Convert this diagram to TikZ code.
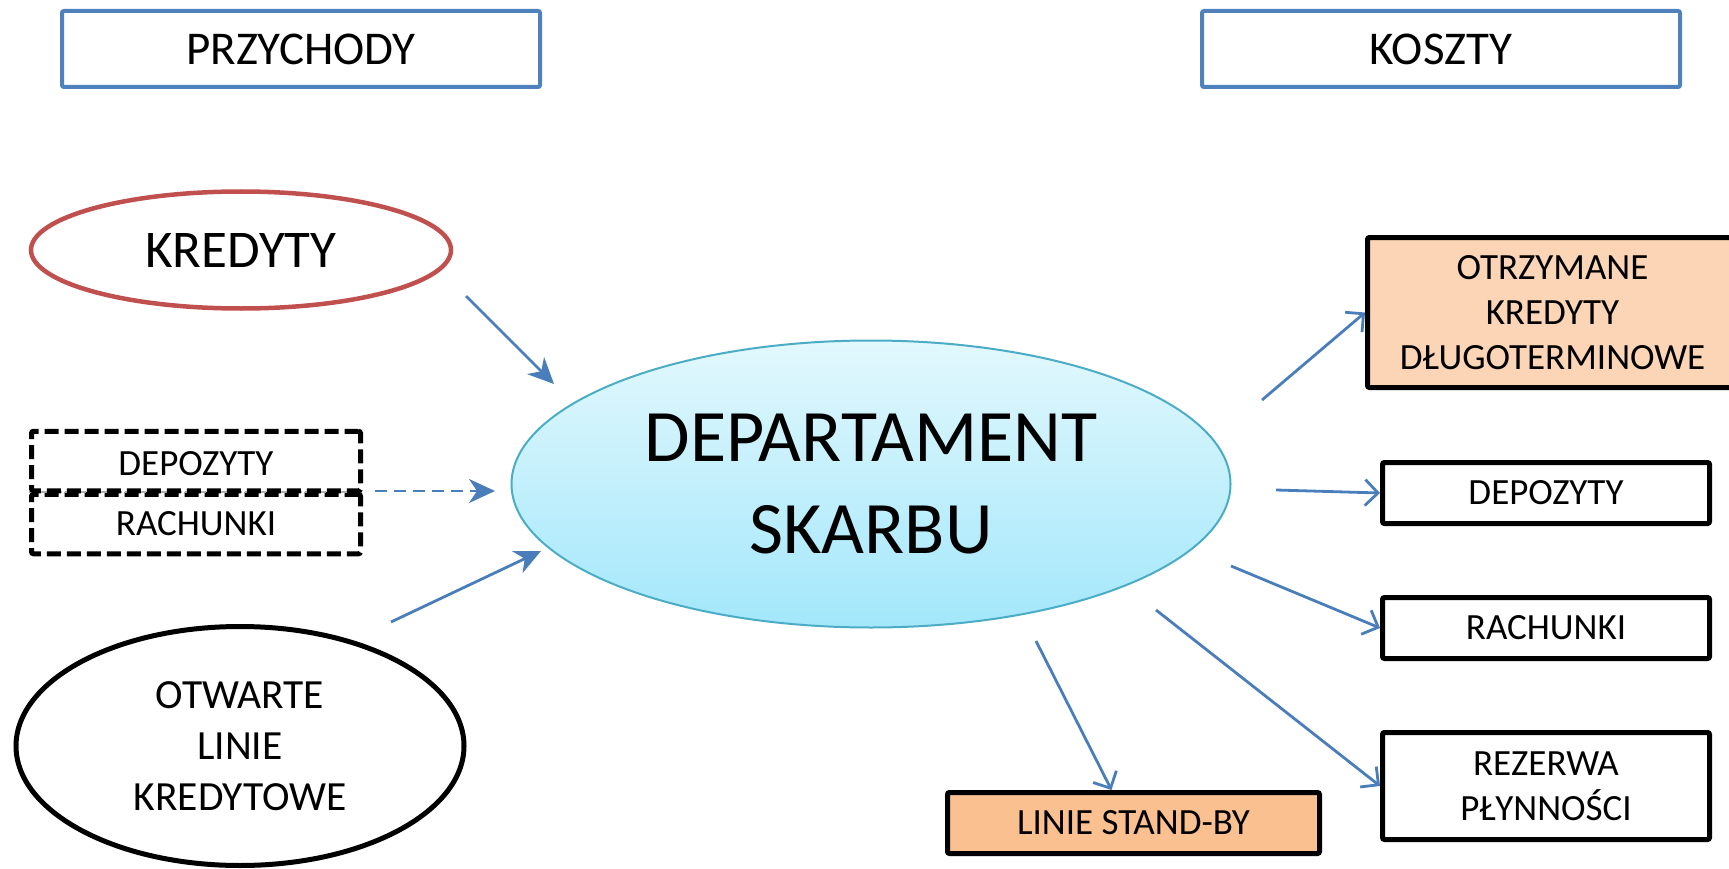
\documentclass[tikz,border=0pt]{standalone}
\usepackage{fontspec}
\setmainfont{Carlito}
\usetikzlibrary{arrows.meta,shapes.geometric}

\definecolor{hdrblue}{HTML}{4F81BD}
\definecolor{arrblue}{HTML}{4A7EBB}
\definecolor{kredred}{HTML}{C0504D}
\definecolor{peachlt}{HTML}{FBD5B5}
\definecolor{peach}{HTML}{FAC090}
\definecolor{skyedge}{HTML}{4BACC6}
\definecolor{skytop}{HTML}{E2F8FD}
\definecolor{skybot}{HTML}{A3E7FB}

\tikzset{
  hdr/.style={draw=hdrblue, line width=4pt, rounded corners=2pt, inner sep=0pt,
    minimum width=478pt, minimum height=76pt, font=\fontsize{47}{56}\selectfont},
  costbox/.style={draw=black, line width=5pt, rounded corners=2pt, inner sep=0pt,
    minimum width=327pt, minimum height=61pt, align=center,
    font=\fontsize{37}{45}\selectfont},
  srcbox/.style={draw=black, line width=5pt, rounded corners=2pt, inner sep=0pt,
    dash pattern=on 14pt off 6pt, minimum width=329pt, minimum height=59.5pt,
    font=\fontsize{37}{45}\selectfont},
  arr/.style={draw=arrblue, line width=2.8pt},
  inarr/.style={arr, -{Stealth[length=26pt,width=24pt,inset=8pt]}},
  outarr/.style={arr, -{Straight Barb[length=13pt,width=26pt]}},
}

\begin{document}
\begin{tikzpicture}[x=1pt, y=-1pt]
\useasboundingbox (0,0) rectangle (1729,869);
\clip (0,0) rectangle (1729,869);

% headers
\node[hdr] (prz) at (301,49) {PRZYCHODY};
\node[hdr] (kosz) at (1441,49) {KOSZTY};

% income sources
\node[ellipse, draw=kredred, line width=4.5pt, inner sep=0pt,
  minimum width=420pt, minimum height=117pt,
  font=\fontsize{53}{63}\selectfont] (kred) at (241,250) {KREDYTY};

\node[srcbox, text depth=0pt] (rachL) at (196,524) {};
\node[font=\fontsize{37}{45}\selectfont] at (196,524) {RACHUNKI};
\draw[gray!60, line width=2.5pt, dash pattern=on 9pt off 3pt]
  (rachL.north west) -- (rachL.north east);
\node[srcbox] (depL) at (196,461) {};
\node[font=\fontsize{37}{45}\selectfont] at (196,464) {DEPOZYTY};

\node[ellipse, draw=black, line width=5pt, inner sep=0pt,
  minimum width=448pt, minimum height=239pt, align=center,
  font=\fontsize{41.5}{51}\selectfont] (otw) at (240,746)
  {OTWARTE\\LINIE\\KREDYTOWE};

% treasury department
\node[ellipse, draw=skyedge, line width=2pt, top color=skytop, bottom color=skybot,
  inner sep=0pt, minimum width=719pt, minimum height=287pt, align=center,
  font=\fontsize{74}{92}\selectfont] (dep) at (871,484)
  {DEPARTAMENT\\SKARBU};

% cost items
\node[costbox, fill=peachlt, minimum width=370pt, minimum height=150pt] (otrz)
  at (1552.5,312.5) {OTRZYMANE\\KREDYTY\\DŁUGOTERMINOWE};
\node[costbox] (depR) at (1546,493) {DEPOZYTY};
\node[costbox] (rachR) at (1546,628) {RACHUNKI};
\node[costbox, minimum height=107pt] (rez) at (1546,786) {REZERWA\\PŁYNNOŚCI};
\node[costbox, fill=peach, minimum width=372pt] (lsb) at (1133.5,823) {LINIE STAND-BY};

% arrow end points
\coordinate (k1) at (466,296);  \coordinate (k2) at (554,384);
\coordinate (d1) at (375,491);  \coordinate (d2) at (495,491);
\coordinate (o1) at (391,622);  \coordinate (o2) at (541,551);
\coordinate (r1) at (1262,400);
\coordinate (r2) at (1276,490);
\coordinate (r3) at (1231,566);
\coordinate (r4) at (1156,610);
\coordinate (r5) at (1036,641);

% incoming flows
\draw[inarr] (k1) -- (k2);
\draw[inarr, dash pattern=on 12pt off 7pt] (d1) -- (d2);
\draw[inarr] (o1) -- (o2);

% outgoing flows
\draw[outarr] (r1) -- (otrz.west);
\draw[outarr] (r2) -- (depR.west);
\draw[outarr] (r3) -- (rachR.west);
\draw[outarr] (r4) -- (rez.west);
\draw[outarr] (r5) -- ([xshift=-22pt]lsb.north);
\end{tikzpicture}
\end{document}
